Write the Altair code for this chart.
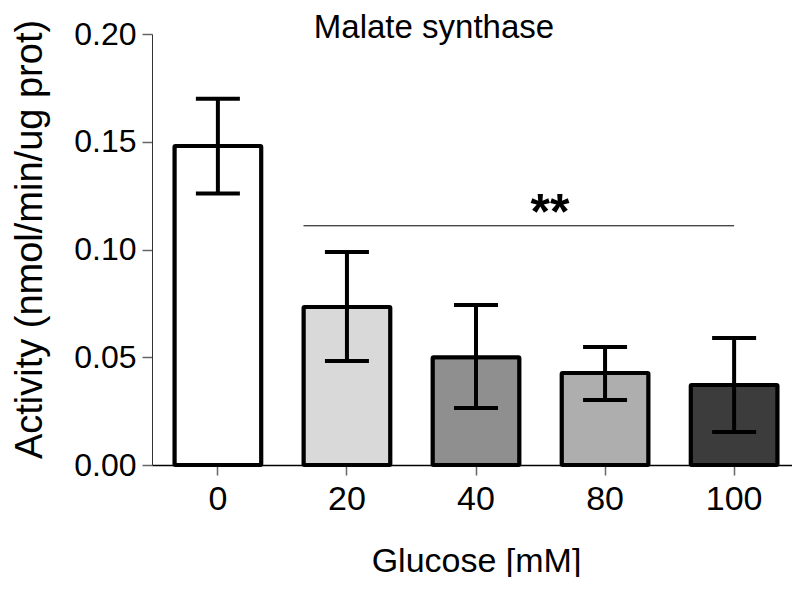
import altair as alt
import pandas as pd

glucose = ["0", "20", "40", "80", "100"]
activity = [0.148, 0.0733, 0.050, 0.0427, 0.0371]
err_lo = [0.126, 0.0483, 0.0264, 0.0302, 0.0153]
err_hi = [0.170, 0.0988, 0.0742, 0.0548, 0.0589]
fills = ["#ffffff", "#d9d9d9", "#8f8f8f", "#aeaeae", "#3c3c3c"]

sig_y = [0.111]
sig_label = ["**"]

df = pd.DataFrame({"g": glucose, "v": activity, "lo": err_lo, "hi": err_hi, "fill": fills})
sig = pd.DataFrame({"x1": ["20"], "x2": ["100"], "y": sig_y, "xt": ["40"], "label": sig_label})

font = "Liberation Sans"

xscale = alt.Scale(domain=glucose, paddingInner=0.327, paddingOuter=0.174, round=False, range=[0, 648])
yscale = alt.Scale(domain=[0, 0.2], nice=False)

xenc = alt.X("g:N", scale=xscale, sort=glucose,
             axis=alt.Axis(title="Glucose [mM]", labelAngle=0, labelFontSize=34, titleFontSize=34,
                           titleFontWeight="normal", labelFont=font, titleFont=font,
                           tickSize=10, tickColor="#666666", tickWidth=1.5, domainColor="#000000", domainWidth=1.5,
                           labelPadding=7, titlePadding=28, labelColor="#000000", titleColor="#000000"))
yenc = alt.Y("v:Q", scale=yscale,
             axis=alt.Axis(title="Activity (nmol/min/ug prot)", values=[0, 0.05, 0.1, 0.15, 0.2],
                           format=".2f", labelFontSize=32, titleFontSize=38, titleFontWeight="normal",
                           labelFont=font, titleFont=font, tickSize=10, tickColor="#666666", tickWidth=1.5,
                           domainColor="#333333", domainWidth=1, labelPadding=6, titlePadding=24,
                           titleY=205,
                           grid=False, labelColor="#000000", titleColor="#000000"))

base = alt.Chart(df)

bars = base.mark_bar(stroke="#000000", strokeWidth=4, cornerRadius=1).encode(
    x=xenc, y=yenc, fill=alt.Fill("fill:N", scale=None))

rule = base.mark_rule(color="#000000", strokeWidth=4).encode(
    x=alt.X("g:N", scale=xscale, sort=glucose), y=alt.Y("lo:Q", scale=yscale), y2="hi:Q")
cap_hi = base.mark_tick(color="#000000", thickness=4, size=44, orient="horizontal", opacity=1).encode(
    x=alt.X("g:N", scale=xscale, sort=glucose), y=alt.Y("hi:Q", scale=yscale))
cap_lo = base.mark_tick(color="#000000", thickness=4, size=44, orient="horizontal", opacity=1).encode(
    x=alt.X("g:N", scale=xscale, sort=glucose), y=alt.Y("lo:Q", scale=yscale))

sig_rule = alt.Chart(sig).mark_rule(color="#000000", strokeWidth=1).encode(
    x=alt.X("x1:N", scale=xscale, sort=glucose, bandPosition=0),
    x2=alt.X2("x2:N", bandPosition=0.5),
    y=alt.Y("y:Q", scale=yscale))
sig_text = alt.Chart(sig).mark_text(fontSize=50, fontWeight="bold", font=font, dx=74, dy=3,
                                     baseline="alphabetic", color="#000000").encode(
    x=alt.X("xt:N", scale=xscale, sort=glucose), y=alt.Y("y:Q", scale=yscale), text="label:N")

chart = alt.layer(bars, rule, cap_hi, cap_lo, sig_rule, sig_text).properties(
    width=640, height=431,
    title=alt.Title("Malate synthase", font=font, fontSize=33, fontWeight="normal", color="#000000",
                    offset=0, dy=27, dx=-38),
    autosize=alt.AutoSizeParams(type="none"),
    padding={"left": 144, "top": 26, "right": 0, "bottom": 112},
).configure_view(stroke=None)

chart.save("out.html", embed_options={"renderer": "svg", "actions": False})
